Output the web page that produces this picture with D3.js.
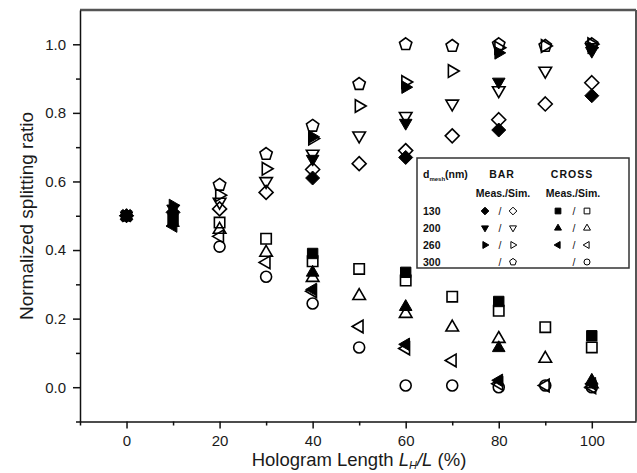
<!DOCTYPE html>
<html>
<head>
<meta charset="utf-8">
<script src="https://cdn.jsdelivr.net/npm/d3@7"></script>
<style>
  body { margin: 0; background: #fff; }
  svg { display: block; font-family: Arial, "Liberation Sans", sans-serif; }
  .axis text { fill: #1a1a1a; font-size: 15px; }
  .axis path, .axis line { stroke: #111; stroke-width: 1.5px; }
</style>
</head>
<body>
<svg id="chart" width="637" height="473"></svg>
<script>
// hologram length (%) where each kind of point was taken
var xMeas = [0, 10, 40, 60, 80, 100];
var xSim = [20, 30, 40, 50, 60, 70, 80, 90, 100];

// measured, BAR port
var bar130Meas = [0.50, 0.51, 0.61, 0.67, 0.75, 0.85];
var bar200Meas = [0.50, 0.52, 0.665, 0.77, 0.89, 0.98];
var bar260Meas = [0.50, 0.53, 0.73, 0.875, 0.975, 0.99];
// measured, CROSS port
var cross130Meas = [0.50, 0.49, 0.39, 0.335, 0.25, 0.15];
var cross200Meas = [0.50, 0.48, 0.335, 0.235, 0.115, 0.02];
var cross260Meas = [0.50, 0.47, 0.285, 0.125, 0.02, 0.01];

// simulated, BAR port
var bar130Sim = [0.52, 0.568, 0.635, 0.652, 0.69, 0.733, 0.78, 0.826, 0.888];
var bar200Sim = [0.54, 0.60, 0.68, 0.733, 0.79, 0.826, 0.865, 0.922, 0.99];
var bar260Sim = [0.56, 0.637, 0.725, 0.82, 0.89, 0.922, 0.99, 0.995, 1.0];
var bar300Sim = [0.59, 0.68, 0.762, 0.884, 1.0, 0.995, 1.0, 0.995, 1.0];
// simulated, CROSS port
var cross130Sim = [0.48, 0.433, 0.367, 0.345, 0.311, 0.264, 0.223, 0.175, 0.116];
var cross200Sim = [0.46, 0.393, 0.32, 0.267, 0.215, 0.175, 0.142, 0.084, 0.01];
var cross260Sim = [0.44, 0.364, 0.28, 0.177, 0.113, 0.078, 0.01, 0.005, 0.0];
var cross300Sim = [0.41, 0.322, 0.244, 0.116, 0.005, 0.005, 0.0, 0.005, 0.0];

// axis ticks
var xMajor = [0, 20, 40, 60, 80, 100];
var xMinor = [-10, 10, 30, 50, 70, 90];
var yMajor = [0, 0.2, 0.4, 0.6, 0.8, 1.0];
var yMinor = [-0.1, 0.1, 0.3, 0.5, 0.7, 0.9];

// legend rows
var meshSizes = ['130', '200', '260', '300'];

var svg = d3.select('#chart');
var x = d3.scaleLinear().domain([-10, 109.5]).range([80, 636]);
var y = d3.scaleLinear().domain([-0.1, 1.1]).range([421.5, 10]);

// marker outlines centred on 0,0
function shape(type, r) {
  var p;
  if (type === 'circle') {
    return 'M' + r + ',0A' + r + ',' + r + ' 0 1,1 ' + -r + ',0A' + r + ',' + r + ' 0 1,1 ' + r + ',0Z';
  }
  if (type === 'square') {
    var h = r * 0.8;
    p = [[-h, -h], [h, -h], [h, h], [-h, h]];
  } else if (type === 'diamond') {
    p = [[0, -r], [r, 0], [0, r], [-r, 0]];
  } else if (type === 'up') {
    p = [[0, -r], [r * 0.9, r * 0.55], [-r * 0.9, r * 0.55]];
  } else if (type === 'down') {
    p = [[0, r], [r * 0.9, -r * 0.55], [-r * 0.9, -r * 0.55]];
  } else if (type === 'right') {
    p = [[r, 0], [-r * 0.55, -r * 0.9], [-r * 0.55, r * 0.9]];
  } else if (type === 'left') {
    p = [[-r, 0], [r * 0.55, -r * 0.9], [r * 0.55, r * 0.9]];
  } else if (type === 'pentagon') {
    p = d3.range(5).map(function (k) {
      var a = -Math.PI / 2 + k * 2 * Math.PI / 5;
      return [r * Math.cos(a), r * Math.sin(a)];
    });
  }
  return 'M' + p.map(function (q) { return q[0].toFixed(2) + ',' + q[1].toFixed(2); }).join('L') + 'Z';
}

var sizeOf = { circle: 5.5, square: 6.5, diamond: 7, up: 7, down: 7, right: 7, left: 7, pentagon: 6.5 };

// open simulation markers first, filled measurements over them
var series = [
  { xs: xSim, ys: bar130Sim, type: 'diamond', filled: false },
  { xs: xSim, ys: bar200Sim, type: 'down', filled: false },
  { xs: xSim, ys: bar260Sim, type: 'right', filled: false },
  { xs: xSim, ys: bar300Sim, type: 'pentagon', filled: false },
  { xs: xSim, ys: cross130Sim, type: 'square', filled: false },
  { xs: xSim, ys: cross200Sim, type: 'up', filled: false },
  { xs: xSim, ys: cross260Sim, type: 'left', filled: false },
  { xs: xSim, ys: cross300Sim, type: 'circle', filled: false },
  { xs: xMeas, ys: bar130Meas, type: 'diamond', filled: true },
  { xs: xMeas, ys: bar200Meas, type: 'down', filled: true },
  { xs: xMeas, ys: bar260Meas, type: 'right', filled: true },
  { xs: xMeas, ys: cross130Meas, type: 'square', filled: true },
  { xs: xMeas, ys: cross200Meas, type: 'up', filled: true },
  { xs: xMeas, ys: cross260Meas, type: 'left', filled: true }
];

// frame (top and right are the grey box edges)
svg.append('line').attr('x1', 80).attr('x2', 636).attr('y1', 10).attr('y2', 10)
  .attr('stroke', '#555').attr('stroke-width', 2.5);
svg.append('line').attr('x1', 636).attr('x2', 636).attr('y1', 10).attr('y2', 421.5)
  .attr('stroke', '#555').attr('stroke-width', 2);

// axes
var gx = svg.append('g').attr('class', 'axis').attr('transform', 'translate(0,421.5)');
gx.call(d3.axisBottom(x).tickValues(xMajor).tickSize(7).tickPadding(7).tickSizeOuter(0));
svg.append('g').attr('class', 'axis').attr('transform', 'translate(0,421.5)')
  .call(d3.axisBottom(x).tickValues(xMinor).tickSize(4).tickFormat('').tickSizeOuter(0))
  .select('.domain').remove();

var gy = svg.append('g').attr('class', 'axis').attr('transform', 'translate(80,0)');
gy.call(d3.axisLeft(y).tickValues(yMajor).tickSize(7).tickPadding(7).tickSizeOuter(0).tickFormat(d3.format('.1f')));
svg.append('g').attr('class', 'axis').attr('transform', 'translate(80,0)')
  .call(d3.axisLeft(y).tickValues(yMinor).tickSize(4).tickFormat('').tickSizeOuter(0))
  .select('.domain').remove();

// axis titles
var xt = svg.append('text').attr('x', 359).attr('y', 466).attr('text-anchor', 'middle')
  .attr('font-size', 18.5).attr('fill', '#1a1a1a');
xt.append('tspan').text('Hologram Length ');
xt.append('tspan').attr('font-style', 'italic').text('L');
xt.append('tspan').attr('font-style', 'italic').attr('font-size', 11).attr('dy', 3).text('H');
xt.append('tspan').attr('dy', -3).attr('font-style', 'italic').text('/L');
xt.append('tspan').text(' (%)');

svg.append('text').attr('transform', 'translate(33,216) rotate(-90)')
  .attr('text-anchor', 'middle').attr('font-size', 19).attr('fill', '#1a1a1a')
  .text('Normalized splitting ratio');

// data points
var marks = svg.append('g');
series.forEach(function (s) {
  marks.append('g').selectAll('path')
    .data(s.ys.map(function (v, i) { return [s.xs[i], v]; }))
    .enter().append('path')
    .attr('transform', function (d) { return 'translate(' + x(d[0]) + ',' + y(d[1]) + ')'; })
    .attr('d', shape(s.type, sizeOf[s.type]))
    .attr('fill', s.filled ? '#000' : 'none')
    .attr('stroke', '#000')
    .attr('stroke-width', s.filled ? 1 : 1.6);
});

// legend box
var lg = svg.append('g').attr('font-weight', 'bold').attr('font-size', 10.5).attr('fill', '#111');
lg.append('rect').attr('x', 417).attr('y', 158).attr('width', 212).attr('height', 110)
  .attr('fill', '#fff').attr('stroke', '#333').attr('stroke-width', 1.5);
var hd = lg.append('text').attr('x', 423).attr('y', 178);
hd.append('tspan').text('d');
hd.append('tspan').attr('font-size', 6).attr('dy', 3).text('mesh');
hd.append('tspan').attr('dy', -3).text('(nm)');
lg.append('text').attr('x', 502).attr('y', 178).attr('text-anchor', 'middle').attr('letter-spacing', 1).text('BAR');
lg.append('text').attr('x', 572).attr('y', 178).attr('text-anchor', 'middle').attr('letter-spacing', 1).text('CROSS');
lg.append('text').attr('x', 503).attr('y', 197).attr('text-anchor', 'middle').text('Meas./Sim.');
lg.append('text').attr('x', 573).attr('y', 197).attr('text-anchor', 'middle').text('Meas./Sim.');

var legendRows = [
  { bm: 'diamond', bs: 'diamond', cm: 'square', cs: 'square' },
  { bm: 'down', bs: 'down', cm: 'up', cs: 'up' },
  { bm: 'right', bs: 'right', cm: 'left', cs: 'left' },
  { bm: null, bs: 'pentagon', cm: null, cs: 'circle' }
];
meshSizes.forEach(function (m, i) {
  var ry = 211 + i * 17;
  lg.append('text').attr('x', 423).attr('y', ry + 3.5).text(m);
  lg.append('text').attr('x', 500).attr('y', ry + 3.5).attr('text-anchor', 'middle').attr('font-weight', 'normal').text('/');
  lg.append('text').attr('x', 574).attr('y', ry + 3.5).attr('text-anchor', 'middle').attr('font-weight', 'normal').text('/');
  var row = legendRows[i];
  [[row.bm, 485, true], [row.bs, 513, false], [row.cm, 558, true], [row.cs, 587, false]].forEach(function (c) {
    if (!c[0]) return;
    lg.append('path').attr('transform', 'translate(' + c[1] + ',' + ry + ')')
      .attr('d', shape(c[0], sizeOf[c[0]] * 0.55))
      .attr('fill', c[2] ? '#000' : 'none').attr('stroke', '#000').attr('stroke-width', 1);
  });
});
</script>
</body>
</html>
